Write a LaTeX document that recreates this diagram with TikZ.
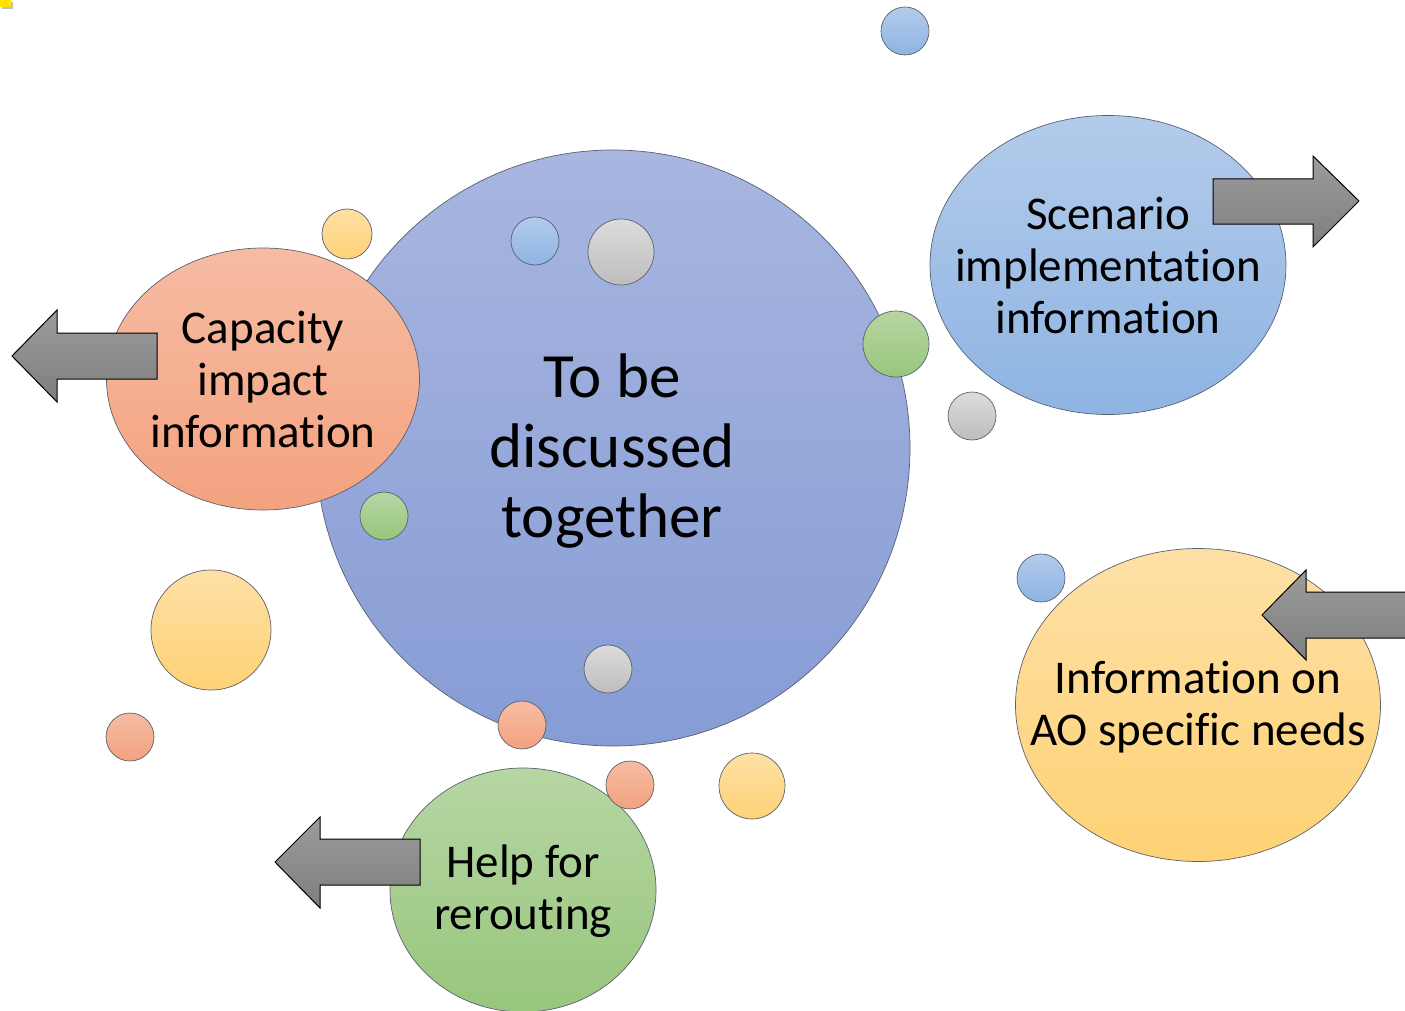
\documentclass[tikz,border=0pt]{standalone}
\usepackage{fontspec}
\setmainfont[Ligatures={NoCommon}]{Carlito}
\usetikzlibrary{shapes.geometric}
\definecolor{bigT}{HTML}{A8B6E0}
\definecolor{bigB}{HTML}{869CD5}
\definecolor{salT}{HTML}{F6BCA3}
\definecolor{salB}{HTML}{F4A27F}
\definecolor{bluT}{HTML}{B3CBEA}
\definecolor{bluB}{HTML}{8EB4E3}
\definecolor{yelT}{HTML}{FEE0A6}
\definecolor{yelB}{HTML}{FED275}
\definecolor{grnT}{HTML}{B6D6A3}
\definecolor{grnB}{HTML}{98C67D}
\definecolor{gryT}{HTML}{DCDCDC}
\definecolor{gryB}{HTML}{BDBDBD}
\definecolor{arT}{HTML}{9C9C9C}
\definecolor{arB}{HTML}{7E7E7E}
\definecolor{edge}{HTML}{5A6070}
\tikzset{
  blob/.style={ellipse, draw=edge, line width=0.7pt, inner sep=0pt},
  bigfill/.style={top color=bigT, bottom color=bigB},
  salfill/.style={top color=salT, bottom color=salB},
  blufill/.style={top color=bluT, bottom color=bluB},
  yelfill/.style={top color=yelT, bottom color=yelB},
  grnfill/.style={top color=grnT, bottom color=grnB},
  gryfill/.style={top color=gryT, bottom color=gryB},
  dot/.style={circle, draw=edge, line width=0.7pt, inner sep=0pt},
  blockarrow/.style={draw=black, line width=1pt, line join=miter, top color=arT, bottom color=arB},
  lbl/.style={align=center, text=black, font=\fontsize{47}{52}\selectfont},
}
\begin{document}
\begin{tikzpicture}[x=1pt,y=-1pt]
\useasboundingbox (0,0) rectangle (1405,1011);
% corner mark
\fill[black!25] (2,2) rectangle (13,9);
\fill[yellow!85!orange] (0,0) rectangle (11,7);
% big circle
\node[blob, bigfill, minimum width=594pt, minimum height=596pt] (big) at (613,448) {};
% surrounding ellipses
\node[blob, salfill, minimum width=313pt, minimum height=262pt] (cap) at (263,379) {};
\node[blob, blufill, minimum width=356pt, minimum height=299pt] (scen) at (1108,265) {};
\node[blob, yelfill, minimum width=365pt, minimum height=313pt] (ao) at (1198,705) {};
\node[blob, grnfill, minimum width=266pt, minimum height=244pt] (help) at (523,890) {};
% small circles
\node[dot, blufill, minimum size=48pt] (d1) at (905,31) {};
\node[dot, yelfill, minimum size=50pt] (d2) at (347,234) {};
\node[dot, blufill, minimum size=48pt] (d3) at (535,241) {};
\node[dot, gryfill, minimum size=66pt] (d4) at (621,252) {};
\node[dot, grnfill, minimum size=66pt] (d5) at (896,344) {};
\node[dot, gryfill, minimum size=48pt] (d6) at (972,416) {};
\node[dot, grnfill, minimum size=48pt] (d7) at (384,516) {};
\node[dot, yelfill, minimum size=120pt] (d8) at (211,630) {};
\node[dot, blufill, minimum size=48pt] (d9) at (1041,578) {};
\node[dot, gryfill, minimum size=48pt] (d10) at (608,669) {};
\node[dot, salfill, minimum size=48pt] (d11) at (130,737) {};
\node[dot, salfill, minimum size=48pt] (d12) at (522,725) {};
\node[dot, salfill, minimum size=48pt] (d13) at (630,785) {};
\node[dot, yelfill, minimum size=66pt] (d14) at (752,786) {};
% block arrows
\path[blockarrow] (12,356) -- (57,310) -- (57,333) -- (157,333) -- (157,379) -- (57,379) -- (57,402) -- cycle;
\path[blockarrow] (1359,201) -- (1313,156) -- (1313,179) -- (1213,179) -- (1213,224) -- (1313,224) -- (1313,247) -- cycle;
\path[blockarrow] (1262,615) -- (1306,570) -- (1306,592) -- (1410,592) -- (1410,638) -- (1306,638) -- (1306,660) -- cycle;
\path[blockarrow] (275,862) -- (320,817) -- (320,839) -- (420,839) -- (420,885) -- (320,885) -- (320,908) -- cycle;
% labels
\node[align=center, font=\fontsize{63}{70}\selectfont] (tbig) at (612,451) {To be\\discussed\\together};
\node[lbl] (tcap) at (263,380) {Capacity\\impact\\information};
\node[lbl] (tscen) at (1108,266) {Scenario\\implementation\\information};
\node[lbl] (tao) at (1198,707) {Information on\\AO specific needs};
\node[lbl] (thelp) at (523,891) {Help for\\rerouting};
\end{tikzpicture}
\end{document}
